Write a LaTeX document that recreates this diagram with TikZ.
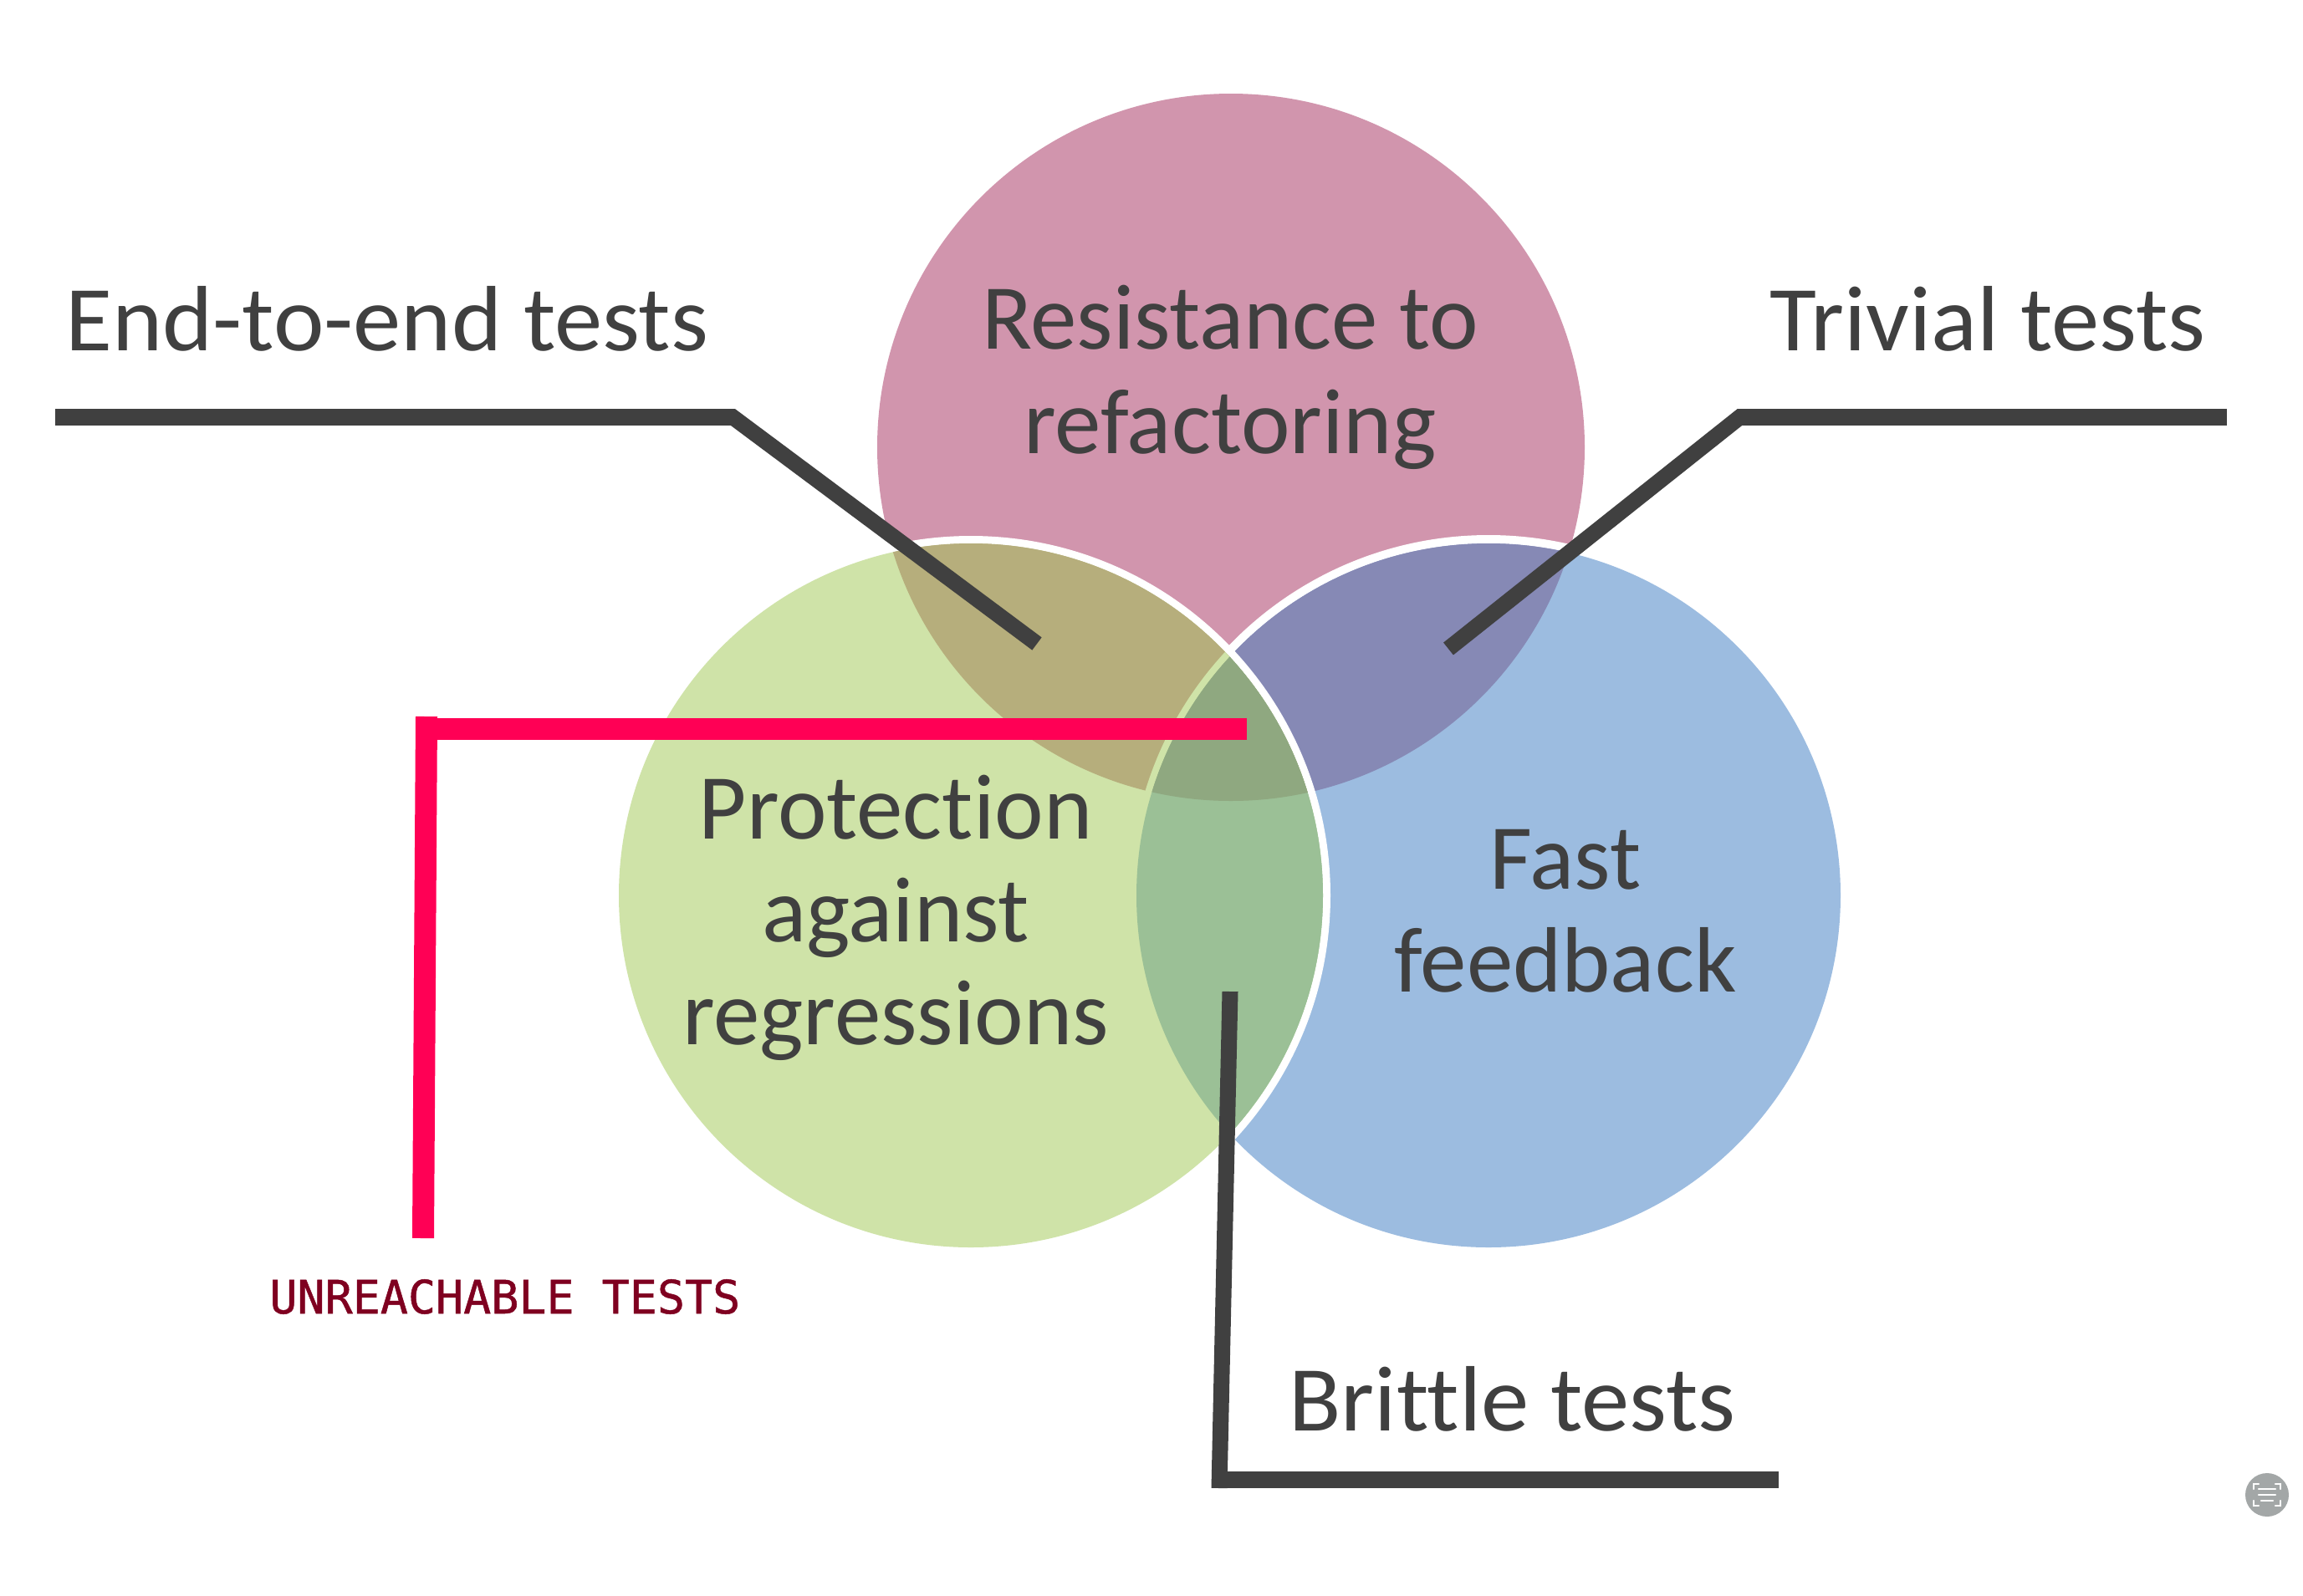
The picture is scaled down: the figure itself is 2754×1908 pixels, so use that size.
\documentclass[tikz,border=0pt]{standalone}
\usepackage{fontspec}
\setmainfont[Ligatures=NoCommon]{Carlito}
\newfontfamily\widelabel[FakeStretch=1.033,Ligatures=NoCommon]{Carlito}
\newfontfamily\monolabel[FakeBold=0.9]{DejaVu Sans Mono}
\definecolor{pinkc}{HTML}{D195AD}
\definecolor{greenc}{HTML}{CFE3A8}
\definecolor{bluec}{HTML}{9CBCE0}
\definecolor{brownc}{HTML}{B6AE7C}
\definecolor{purplec}{HTML}{8689B5}
\definecolor{centerc}{HTML}{8FA880}
\definecolor{gbc}{HTML}{9BC096}
\definecolor{redc}{HTML}{FF0055}
\definecolor{darkc}{HTML}{404040}
\definecolor{maroonc}{HTML}{7F0020}
\definecolor{iconc}{HTML}{A3A7A7}
\tikzset{
  lbl/.style={text=darkc,inner sep=0pt,align=center,font=\fontsize{55.5}{61.5}\selectfont},
  callout/.style={text=darkc,inner sep=0pt,anchor=base west,font=\widelabel\fontsize{55.5}{61.5}\selectfont},
  leadh/.style={draw=darkc,line width=10pt},
  leadd/.style={draw=darkc,line width=9.5pt,shorten <=-30pt},
  leadv/.style={draw=darkc,line width=9.5pt},
  redl/.style={draw=redc,line width=13pt},
  iconl/.style={draw=white,line width=1.2pt,line cap=round}
}
\newcommand{\pinkdisc}{(1472,535) circle [radius=423]}
\newcommand{\greendisc}{(1161,1071) circle [radius=421]}
\newcommand{\bluedisc}{(1780,1071) circle [radius=421]}
\begin{document}
\begin{tikzpicture}[x=0.5pt,y=-0.5pt]
\useasboundingbox (0,0) rectangle (2754,1908);
\fill[white] (0,0) rectangle (2754,1908);
% pink and blue
\fill[pinkc] \pinkdisc;
\draw[white,line width=5pt] (1780,1071) circle [radius=426];
\fill[bluec] \bluedisc;
\begin{scope}
  \clip \pinkdisc;
  \fill[purplec] \bluedisc;
\end{scope}
% green on top
\draw[white,line width=4.5pt] (1161,1071) circle [radius=425.5];
\fill[greenc] \greendisc;
\begin{scope}
  \clip \greendisc;
  \fill[brownc] \pinkdisc;
  \draw[greenc,line width=4pt] (1780,1071) circle [radius=425];
  \fill[gbc] \bluedisc;
  \clip \bluedisc;
  \fill[centerc] \pinkdisc;
\end{scope}
% labels
\node[lbl,font=\fontsize{55.5}{62.5}\selectfont] (res) at (1471,451) {Resistance to\\refactoring};
\node[lbl] (pro) at (1071,1098) {Protection\\against\\regressions};
\node[lbl] (fast) at (1872,1090) {Fast\\feedback};
\node[callout] (e2e) at (78,419) {End-to-end tests};
\node[callout] (triv) at (2116,419) {Trivial tests};
\node[callout] (brit) at (1541,1711) {Brittle tests};
% dark leaders
\coordinate (e0) at (66,499);
\coordinate (e1) at (879,499);
\coordinate (e3) at (863,489);
\coordinate (e2) at (1240,770);
\draw[leadh] (e0) -- (e1);
\begin{scope}
  \clip (0,489) rectangle (2754,1000);
  \draw[leadd] (e3) -- (e2);
\end{scope}
\coordinate (t0) at (2663,499);
\coordinate (t1) at (2078,499);
\coordinate (t3) at (2093,489);
\coordinate (t2) at (1732,776);
\draw[leadh] (t0) -- (t1);
\begin{scope}
  \clip (0,489) rectangle (2754,1000);
  \draw[leadd] (t3) -- (t2);
\end{scope}
\coordinate (b0) at (1471,1186);
\coordinate (b1) at (1458,1780);
\coordinate (b3) at (1449,1770);
\coordinate (b2) at (2127,1770);
\draw[leadh] (b3) -- (b2);
\draw[leadv] (b0) -- (b1);
% red
\coordinate (r0) at (1491,872);
\coordinate (r1) at (497,872);
\coordinate (r2) at (510,857);
\coordinate (r3) at (506,1481);
\draw[redl] (r0) -- (r1);
\draw[redl] (r2) -- (r3);
\node[text=maroonc,inner sep=0pt,anchor=base west,font=\monolabel\fontsize{27.5}{30}\selectfont] (unr) at (322,1571) {UNREACHABLE TESTS};
% icon
\begin{scope}[shift={(-12,-9)}]
\fill[iconc] (2723,1797) circle [radius=26];
\draw[iconl] (2707,1790) -- (2707,1784) -- (2713,1784);
\draw[iconl] (2733,1784) -- (2739,1784) -- (2739,1790);
\draw[iconl] (2707,1804) -- (2707,1810) -- (2713,1810);
\draw[iconl] (2733,1810) -- (2739,1810) -- (2739,1804);
\draw[iconl] (2713,1790) -- (2733,1790);
\draw[iconl] (2713,1797) -- (2733,1797);
\draw[iconl] (2716,1804) -- (2730,1804);
\end{scope}
\end{tikzpicture}
\end{document}
